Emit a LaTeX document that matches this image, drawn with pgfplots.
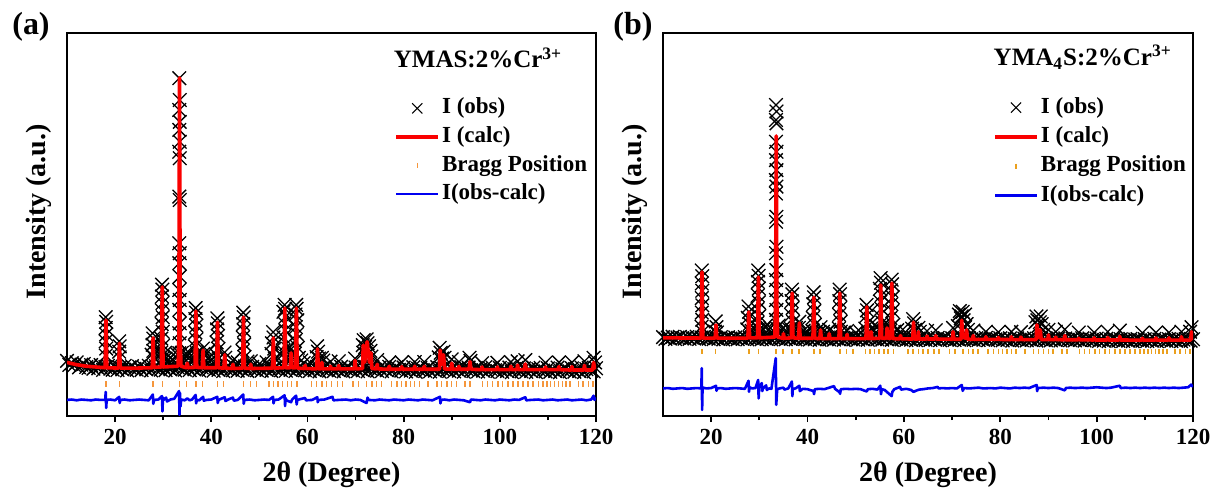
\documentclass[border=0pt]{standalone}
\usepackage{fontspec}
\setmainfont{Liberation Serif}
\usepackage{pgfplots}
\pgfplotsset{compat=1.18}
\definecolor{calcred}{RGB}{250,0,0}
\definecolor{diffblue}{RGB}{0,0,240}
\definecolor{braggA}{RGB}{245,150,60}
\definecolor{braggB}{RGB}{235,160,30}
\pgfplotsset{
 xrd/.style={
  scale only axis, height=191.5pt,
  xmin=10, xmax=120, ymin=0, ymax=100,
  xtick={20,40,...,120}, minor xtick={30,50,...,110}, ytick=\empty,
  xtick pos=left, tick align=outside,
  major tick length=3pt, minor tick length=2pt,
  every tick/.style={black, line width=0.9pt},
  axis line style={line width=1pt},
  tick label style={font=\bfseries\fontsize{11.5}{13}\selectfont},
  /pgf/number format/assume math mode=true,
  label style={font=\bfseries\fontsize{14}{16}\selectfont},
  xlabel={2θ (Degree)}, ylabel={Intensity (a.u.)},
  xlabel style={at={(axis description cs:0.5,-0.154)}, anchor=center},
  ylabel style={at={(axis description cs:-0.053,0.533)}, anchor=center},
  legend style={draw=none, fill=none, anchor=north west, font=\bfseries\fontsize{11.5}{13}\selectfont, row sep=0.8pt, nodes={inner sep=1pt, text height=8.5pt, text depth=3pt}},
  legend cell align=left,
  legend image code/.code={\draw[mark repeat=2,mark phase=2,#1] plot coordinates {(0pt,0pt)(10.5pt,0pt)(21pt,0pt)};},
  clip mode=individual,
 },
 obsbase/.style={black, line width=2pt, line join=round, mark=x, mark size=4.8pt, mark options={line width=0.65pt}, forget plot},
 obs/.style={only marks, mark=x, mark size=4.8pt, black, mark options={line width=0.65pt}, legend image post style={mark size=3.6pt, mark options={line width=0.5pt}}},
 calc/.style={calcred, line width=1.8pt, line join=round},
 diff/.style={diffblue, line width=1.3pt, line join=round},
}
\begin{document}
\begin{tikzpicture}
\path[use as bounding box] (0,0) rectangle (608pt,247pt);
% ---------------- panel (a) ----------------
\begin{axis}[xrd, width=264.5pt, at={(33.5pt,39pt)}, anchor=south west,
  legend style={at={(axis description cs:0.607,0.85)}}]
\addplot[obsbase] coordinates {
(10,14.4)(10.5,13.35)(11,13.8)(11.5,13.25)(12,14.0)(12.5,12.7)(13,13.4)(13.5,13.6)(14,12.8)(14.5,12.55)
(15,13.3)(15.5,12.35)(16,12.9)(16.5,12.45)(17,13.3)(17.5,12.05)(18,12.8)(18.5,13.1)(19,12.35)(19.5,12.1)(20,12.9)
(20.5,12.0)(21,12.6)(21.5,12.2)(22,13.1)(22.5,11.9)(23,12.7)(23.5,13.0)(24,12.3)(24.5,12.1)(25,12.9)
(25.5,12.0)(26,12.6)(26.5,12.2)(27,13.1)(27.5,11.9)(28,12.7)(28.5,13.0)(29,12.3)(29.5,12.1)(30,12.9)
(30.5,12.0)(31,12.6)(31.5,12.2)(32,13.1)(32.5,11.9)(33,12.7)(33.5,13.0)(34,12.3)(34.5,12.1)(35,12.9)
(35.5,12.0)(36,12.6)(36.5,12.2)(37,13.1)(37.5,11.9)(38,12.7)(38.5,13.0)(39,12.3)(39.5,12.1)(40,12.9)
(40.5,11.85)(41,12.45)(41.5,12.05)(42,12.95)(42.5,11.75)(43,12.55)(43.5,12.85)(44,12.15)(44.5,11.95)(45,12.75)
(45.5,11.85)(46,12.45)(46.5,12.05)(47,12.95)(47.5,11.75)(48,12.55)(48.5,12.85)(49,12.15)(49.5,11.95)(50,12.75)
(50.5,11.85)(51,12.45)(51.5,12.05)(52,12.95)(52.5,11.75)(53,12.55)(53.5,12.85)(54,12.15)(54.5,11.95)(55,12.75)
(55.5,11.85)(56,12.45)(56.5,12.05)(57,12.95)(57.5,11.75)(58,12.55)(58.5,12.85)(59,12.15)(59.5,11.95)(60,12.75)
(60.5,11.75)(61,12.35)(61.5,11.95)(62,12.85)(62.5,11.65)(63,12.45)(63.5,12.75)(64,12.05)(64.5,11.85)(65,12.65)
(65.5,11.75)(66,12.35)(66.5,11.95)(67,12.85)(67.5,11.65)(68,12.45)(68.5,12.75)(69,12.05)(69.5,11.85)(70,12.65)
(70.5,11.75)(71,12.35)(71.5,11.95)(72,12.85)(72.5,11.65)(73,12.45)(73.5,12.75)(74,12.05)(74.5,11.85)(75,12.65)
(75.5,11.75)(76,12.35)(76.5,11.95)(77,12.85)(77.5,11.65)(78,12.45)(78.5,12.75)(79,12.05)(79.5,11.85)(80,12.65)
(80.5,11.65)(81,12.25)(81.5,11.85)(82,12.75)(82.5,11.55)(83,12.35)(83.5,12.65)(84,11.95)(84.5,11.75)(85,12.55)
(85.5,11.65)(86,12.25)(86.5,11.85)(87,12.75)(87.5,11.55)(88,12.35)(88.5,12.65)(89,11.95)(89.5,11.75)(90,12.55)
(90.5,11.65)(91,12.25)(91.5,11.85)(92,12.75)(92.5,11.55)(93,12.35)(93.5,12.65)(94,11.95)(94.5,11.75)(95,12.55)
(95.5,11.65)(96,12.25)(96.5,11.85)(97,12.75)(97.5,11.55)(98,12.35)(98.5,12.65)(99,11.95)(99.5,11.75)(100,12.55)
(100.5,11.55)(101,12.15)(101.5,11.75)(102,12.65)(102.5,11.45)(103,12.25)(103.5,12.55)(104,11.85)(104.5,11.65)(105,12.45)
(105.5,11.55)(106,12.15)(106.5,11.75)(107,12.65)(107.5,11.45)(108,12.25)(108.5,12.55)(109,11.85)(109.5,11.65)(110,12.45)
(110.5,11.55)(111,12.15)(111.5,11.75)(112,12.65)(112.5,11.45)(113,12.25)(113.5,12.55)(114,11.85)(114.5,11.65)(115,12.45)
(115.5,11.55)(116,12.15)(116.5,11.75)(117,12.65)(117.5,11.45)(118,12.25)(118.5,12.55)(119,11.85)(119.5,11.65)(120,12.45)
};
\addplot[obs] coordinates {
(18.05,25.8)(18.15,24.6)(18.05,23.0)(18.15,21.3)(18.05,19.5)(18.15,17.6)(18.05,15.8)
(20.85,19.5)(20.95,18.2)(20.85,16.8)(20.95,15.3)
(27.8,21.6)(27.95,20.2)(27.8,18.6)(27.95,17.0)(27.6,16.0)(28.1,15.2)
(29.75,34.3)(29.85,33.0)(29.75,31.2)(29.85,29.5)(29.7,27.6)(29.9,25.8)(29.7,24.0)(29.9,22.0)(29.6,20.2)(30.0,18.4)(29.6,16.6)(30.0,15.2)(29.3,17.5)(30.4,16.5)
(33.35,88.2)(33.45,82.5)(33.35,79.9)(33.45,76.8)(33.35,74.7)(33.45,71.6)(33.35,69.0)(33.45,67.3)(33.35,57.3)(33.45,56.4)(33.35,45.1)(33.45,42.5)(33.35,39.9)(33.45,36.4)(33.35,32.9)(33.45,30.3)(33.35,27.7)(33.45,24.2)(33.35,21.6)(33.45,19.0)(33.35,16.4)
(34.9,15.5)(35.1,16.8)
(36.75,28.2)(36.85,27.0)(36.7,25.3)(36.9,23.6)(36.7,21.8)(36.9,20.0)(36.6,18.2)(37.0,16.5)(36.5,15.0)(37.2,15.5)
(38.25,17.6)(38.35,16.2)(38.0,15.0)(39.4,16.8)(39.7,15.4)(40.0,14.5)
(41.25,25.5)(41.35,24.2)(41.2,22.6)(41.4,20.9)(41.1,19.2)(41.5,17.5)(41.0,16.0)(41.6,15.0)
(42.75,16.6)(42.9,15.2)(44.5,14.5)
(46.65,27.0)(46.75,25.8)(46.6,24.0)(46.8,22.3)(46.55,20.5)(46.85,18.7)(46.5,17.0)(46.9,15.4)
(48.2,14.3)
(52.85,21.9)(52.95,20.5)(52.6,19.0)(53.1,17.6)(52.5,16.2)(53.2,15.0)
(55.25,29.0)(55.35,28.0)(55.0,27.2)(55.5,26.0)(55.2,24.2)(55.4,22.4)(55.0,20.6)(55.6,18.8)(54.9,17.0)(55.7,15.4)(56.0,17.5)(56.3,16.0)(56.6,17.5)(56.9,16.0)
(57.65,29.0)(57.75,28.0)(57.5,26.5)(57.9,25.0)(57.6,23.2)(57.8,21.4)(57.4,19.6)(58.0,17.8)(57.3,16.2)(58.2,15.2)
(62.0,18.2)(62.2,16.8)(61.9,15.4)(62.4,15.0)(63.0,15.2)(63.3,14.5)
(69.9,15.0)
(71.5,18.5)(71.7,19.8)(72.0,18.0)(72.3,20.0)(72.5,19.0)(72.8,18.2)(73.1,17.0)(73.3,15.5)(71.6,16.5)(72.4,16.0)
(87.5,17.8)(87.7,16.5)(88.0,15.0)(88.3,16.8)(88.5,15.2)(87.3,15.3)
(90,14.8)(93.7,15.2)(93.9,14.4)(105.3,14.6)(119.5,15.2)(119.8,14.0)
(64.8,14.2)(66.5,14.3)(74.5,14.6)(77,14.0)(79.6,14.0)(82.3,14.1)(84.3,14.1)(91.5,14.1)(96.3,13.8)(99.5,13.9)(102.3,14.1)(103.7,14.3)(109.5,13.9)(112.3,14.0)(115,14.0)(117.6,14.3)
(28.5,14.8)(29.0,15.5)(30.5,15.0)(31.0,14.5)(31.5,15.3)(32.0,14.6)(32.5,15.5)(33.0,16.0)(33.9,16.5)(34.3,15.2)(35.5,15.4)(36.0,14.8)(37.5,15.0)(38.8,14.5)(45.5,14.0)(47.5,14.2)(50,13.6)(51.5,14.0)(54.0,15.0)(54.4,16.2)(56.3,14.6)(58.7,14.5)(59.2,13.8)(60.5,14.0)
};
\addlegendentry{I (obs)}
\addplot[calc] coordinates {
(10,14.0)(12,13.4)(14,13.0)(16,12.8)(17.92,12.6)(18.1,25.0)(18.28,12.6)(20.72,12.5)(20.9,19.0)(21.08,12.5)(24,12.5)
(27.72,12.6)(27.9,20.4)(28.08,12.7)(29.62,12.8)(29.8,33.7)(29.98,12.8)(33.1,13.0)(33.25,20)(33.4,88.3)(33.55,20)(33.7,13.0)
(34.82,12.6)(35.0,13.8)(35.18,12.6)(36.62,12.7)(36.8,27.4)(36.98,12.7)(38.12,12.6)(38.3,17.2)(38.48,12.6)(41.12,12.6)(41.3,24.5)(41.48,12.6)
(42.62,12.5)(42.8,16.0)(42.98,12.5)(44.35,12.4)(44.5,13.5)(44.65,12.4)(46.52,12.5)(46.7,25.8)(46.88,12.5)(48.05,12.4)(48.2,13.5)(48.35,12.4)
(52.72,12.5)(52.9,20.4)(53.08,12.5)(55.12,12.6)(55.3,28.2)(55.48,12.6)(56.45,12.6)(56.6,16.5)(56.75,12.6)(57.52,12.6)(57.7,28.2)(57.88,12.5)
(59.35,12.4)(59.5,13.2)(59.65,12.4)(61.92,12.3)(62.1,17.5)(62.28,12.3)(62.85,12.3)(63.0,14.0)(63.15,12.3)(64.65,12.3)(64.8,13.0)(64.95,12.3)
(66.35,12.3)(66.5,13.2)(66.65,12.3)(69.75,12.3)(69.9,14.5)(70.05,12.3)(71.45,12.4)(71.6,18.5)(71.9,14)(72.4,19.4)(72.9,14)(73.2,16.5)(73.4,12.4)
(74.35,12.3)(74.5,13.5)(74.65,12.3)(76.85,12.2)(77,13)(77.15,12.2)(79.45,12.2)(79.6,12.9)(79.75,12.2)(82.15,12.2)(82.3,13.0)(82.45,12.2)
(84.15,12.2)(84.3,13)(84.45,12.2)(87.45,12.2)(87.6,17.2)(87.9,13.5)(88.3,16.0)(88.5,12.3)(89.85,12.2)(90,13.8)(90.15,12.2)
(91.35,12.2)(91.5,13.0)(91.65,12.2)(93.6,12.2)(93.8,14.2)(94.0,12.2)(96.15,12.1)(96.3,12.8)(96.45,12.1)(99.35,12.1)(99.5,12.8)(99.65,12.1)
(102.15,12.1)(102.3,13.0)(102.45,12.1)(103.55,12.1)(103.7,13.3)(103.85,12.1)(105.1,12.1)(105.3,13.6)(105.5,12.1)(109.35,12.1)(109.5,12.8)(109.65,12.1)
(112.15,12.1)(112.3,12.9)(112.45,12.1)(114.85,12.0)(115,12.9)(115.15,12.0)(117.45,12.0)(117.6,13.2)(117.75,12.0)(119.3,12.0)(119.5,14.0)(119.7,12.5)(120,13.2)
};
\addlegendentry{I (calc)}
\addplot[only marks, mark=|, mark size=1.4pt, braggA, mark options={line width=0.7pt}] coordinates {
(18.1,8.3)(20.9,8.3)(27.9,8.3)(29.8,8.3)(33.4,8.3)(34.9,8.3)(36.8,8.3)(38.2,8.3)(41.3,8.3)(42.6,8.3)(46.7,8.3)(48.1,8.3)(49.4,8.3)
(52.0,8.3)(52.9,8.3)(53.9,8.3)(54.8,8.3)(55.9,8.3)(56.7,8.3)(57.8,8.3)(60.9,8.3)(61.9,8.3)(63.0,8.3)(64.0,8.3)(65.0,8.3)(66.2,8.3)(67.3,8.3)
(69.5,8.3)(70.6,8.3)(72.3,8.3)(73.4,8.3)(74.4,8.3)(75.4,8.3)(77.5,8.3)(78.6,8.3)(79.6,8.3)(80.5,8.3)(81.4,8.3)(82.3,8.3)(83.3,8.3)(85.1,8.3)
(86.9,8.3)(87.9,8.3)(89.0,8.3)(90.0,8.3)(91.0,8.3)(92.8,8.3)(93.8,8.3)(96.4,8.3)(97.5,8.3)(98.5,8.3)(99.6,8.3)(100.6,8.3)(101.7,8.3)(102.7,8.3)
(103.8,8.3)(104.8,8.3)(105.9,8.3)(106.9,8.3)(108.0,8.3)(109.0,8.3)(109.8,8.3)(110.6,8.3)(111.4,8.3)(112.2,8.3)(113.0,8.3)(113.8,8.3)(114.6,8.3)
(116.3,8.3)(117.3,8.3)(118.4,8.3)(119.4,8.3)
};
\addlegendentry{Bragg Position}
\addplot[diff] coordinates {
(10,4.2)(11,4.3)(12,4.1)(13,4.3)(14,4.2)(15,4.1)(16,4.3)(17,4.2)(17.95,4.2)(18.05,6.3)(18.15,2.1)(18.25,4.2)(19,4.3)(20,4.1)(20.85,5.0)(20.95,3.4)(21.1,4.2)
(22,4.3)(23,4.1)(24,4.2)(25,4.3)(26,4.2)(27,4.1)(27.85,5.6)(27.95,3.2)(28.1,4.2)(29,4.3)(29.75,5.2)(29.85,1.2)(29.95,4.8)(30.1,4.2)(30.6,4.8)(30.8,3.8)
(31.5,4.3)(32.3,4.5)(33.3,6.5)(33.4,0.3)(33.5,6.0)(33.6,2.5)(33.75,4.3)(34.5,4.1)(35,4.6)(35.5,4.1)(36,4.3)(36.75,5.5)(36.85,3.3)(37,4.2)(37.5,4.1)
(38.3,5.0)(38.45,4.0)(39,4.2)(40,4.3)(41.25,5.0)(41.35,3.4)(41.5,4.2)(42.8,4.9)(42.95,3.9)(43.5,4.3)(44.5,4.8)(44.7,4.0)(45.5,4.2)(46.65,5.6)(46.75,3.2)(46.9,4.2)
(48,4.3)(49,4.1)(50,4.2)(51,4.3)(52,4.2)(52.85,5.0)(52.95,3.3)(53.1,4.2)(54,4.3)(55.25,5.4)(55.35,2.6)(55.45,4.7)(55.6,4.1)(56.6,3.6)(56.8,4.3)
(57.65,5.3)(57.75,3.0)(57.9,4.2)(58.5,4.4)(59.5,4.7)(59.7,4.1)(61,4.2)(62.05,4.9)(62.15,3.6)(62.3,4.2)(63.5,4.3)(65.2,5.0)(65.4,4.1)(66.5,4.2)
(68,4.3)(69,4.1)(70,4.3)(71,4.2)(72.3,3.4)(72.5,4.8)(72.7,4.2)(74,4.1)(75,4.3)(76,4.2)(77,4.1)(78,4.3)(79,4.2)(80,4.1)(81,4.3)(82,4.2)(83,4.1)
(84,4.3)(85,4.2)(86,4.1)(87.55,5.0)(87.65,3.3)(87.8,4.2)(88.5,4.3)(89.5,4.1)(90.5,4.3)(91.5,4.2)(92.5,4.1)(93.8,3.6)(94,4.3)(95,4.2)(96,4.1)
(97,4.3)(98,4.2)(99,4.1)(100,4.3)(101,4.2)(102,4.1)(103,4.3)(104,4.2)(105.3,4.9)(105.5,4.1)(106.5,4.2)(108,4.3)(109,4.1)(110,4.2)(111,4.3)
(112,4.1)(113,4.2)(114,4.3)(115,4.1)(116,4.2)(117,4.3)(118,4.1)(119,4.3)(119.5,5.3)(119.7,4.2)(120,4.8)
};
\addlegendentry{I(obs-calc)}
\node[font=\bfseries\fontsize{12.5}{14}\selectfont] at (axis description cs:0.777,0.935) {YMAS:2\%Cr\textsuperscript{3+}};
\end{axis}
% ---------------- panel (b) ----------------
\begin{axis}[xrd, width=265pt, at={(331.5pt,39pt)}, anchor=south west,
  legend style={at={(axis description cs:0.611,0.852)}, row sep=1.2pt}]
\addplot[obsbase] coordinates {
(10,20.6)(10.5,20.15)(11,20.45)(11.5,20.25)(12,20.7)(12.5,20.1)(13,20.5)(13.5,20.65)(14,20.3)(14.5,20.2)
(15,20.6)(15.5,20.15)(16,20.45)(16.5,20.25)(17,20.7)(17.5,20.1)(18,20.5)(18.5,20.65)(19,20.3)(19.5,20.2)(20,20.6)
(20.5,20.05)(21,20.35)(21.5,20.15)(22,20.6)(22.5,20.0)(23,20.4)(23.5,20.55)(24,20.2)(24.5,20.1)(25,20.5)
(25.5,20.05)(26,20.35)(26.5,20.15)(27,20.6)(27.5,20.0)(28,20.4)(28.5,20.55)(29,20.2)(29.5,20.1)(30,20.5)
(30.5,20.05)(31,20.35)(31.5,20.15)(32,20.6)(32.5,20.0)(33,20.4)(33.5,20.55)(34,20.2)(34.5,20.1)(35,20.5)
(35.5,20.05)(36,20.35)(36.5,20.15)(37,20.6)(37.5,20.0)(38,20.4)(38.5,20.55)(39,20.2)(39.5,20.1)(40,20.5)
(40.5,19.95)(41,20.25)(41.5,20.05)(42,20.5)(42.5,19.9)(43,20.3)(43.5,20.45)(44,20.1)(44.5,20.0)(45,20.4)
(45.5,19.95)(46,20.25)(46.5,20.05)(47,20.5)(47.5,19.9)(48,20.3)(48.5,20.45)(49,20.1)(49.5,20.0)(50,20.4)
(50.5,19.95)(51,20.25)(51.5,20.05)(52,20.5)(52.5,19.9)(53,20.3)(53.5,20.45)(54,20.1)(54.5,20.0)(55,20.4)
(55.5,19.95)(56,20.25)(56.5,20.05)(57,20.5)(57.5,19.9)(58,20.3)(58.5,20.45)(59,20.1)(59.5,20.0)(60,20.4)
(60.5,19.85)(61,20.15)(61.5,19.95)(62,20.4)(62.5,19.8)(63,20.2)(63.5,20.35)(64,20.0)(64.5,19.9)(65,20.3)
(65.5,19.85)(66,20.15)(66.5,19.95)(67,20.4)(67.5,19.8)(68,20.2)(68.5,20.35)(69,20.0)(69.5,19.9)(70,20.3)
(70.5,19.85)(71,20.15)(71.5,19.95)(72,20.4)(72.5,19.8)(73,20.2)(73.5,20.35)(74,20.0)(74.5,19.9)(75,20.3)
(75.5,19.85)(76,20.15)(76.5,19.95)(77,20.4)(77.5,19.8)(78,20.2)(78.5,20.35)(79,20.0)(79.5,19.9)(80,20.3)
(80.5,19.75)(81,20.05)(81.5,19.85)(82,20.3)(82.5,19.7)(83,20.1)(83.5,20.25)(84,19.9)(84.5,19.8)(85,20.2)
(85.5,19.75)(86,20.05)(86.5,19.85)(87,20.3)(87.5,19.7)(88,20.1)(88.5,20.25)(89,19.9)(89.5,19.8)(90,20.2)
(90.5,19.75)(91,20.05)(91.5,19.85)(92,20.3)(92.5,19.7)(93,20.1)(93.5,20.25)(94,19.9)(94.5,19.8)(95,20.2)
(95.5,19.75)(96,20.05)(96.5,19.85)(97,20.3)(97.5,19.7)(98,20.1)(98.5,20.25)(99,19.9)(99.5,19.8)(100,20.2)
(100.5,19.6)(101,19.9)(101.5,19.7)(102,20.15)(102.5,19.55)(103,19.95)(103.5,20.1)(104,19.75)(104.5,19.65)(105,20.05)
(105.5,19.6)(106,19.9)(106.5,19.7)(107,20.15)(107.5,19.55)(108,19.95)(108.5,20.1)(109,19.75)(109.5,19.65)(110,20.05)
(110.5,19.6)(111,19.9)(111.5,19.7)(112,20.15)(112.5,19.55)(113,19.95)(113.5,20.1)(114,19.75)(114.5,19.65)(115,20.05)
(115.5,19.6)(116,19.9)(116.5,19.7)(117,20.15)(117.5,19.55)(118,19.95)(118.5,20.1)(119,19.75)(119.5,19.65)(120,20.05)
};
\addplot[obs] coordinates {
(18.05,38.0)(18.15,36.5)(18.05,34.6)(18.15,32.7)(18.05,30.8)(18.15,28.9)(18.05,27.0)(18.15,25.1)(18.0,23.3)(18.2,22.0)
(20.95,24.7)(21.1,23.2)(20.8,22.0)(21.2,21.8)
(27.75,28.6)(27.85,27.2)(27.6,25.6)(28.0,24.0)(27.5,22.6)(28.1,21.8)
(29.75,38.0)(29.85,36.6)(29.7,35.0)(29.9,33.3)(29.7,31.5)(29.9,29.7)(29.6,27.9)(30.0,26.1)(29.6,24.3)(30.0,22.6)(30.4,22.0)
(33.45,81.2)(33.55,79.5)(33.45,77.3)(33.55,76.4)(33.45,71.6)(33.55,69.0)(33.45,66.8)(33.55,64.2)(33.45,61.6)(33.55,59.9)(33.45,58.1)
(33.55,52.0)(33.45,50.7)(33.55,44.2)(33.45,42.5)(33.55,38.1)(33.45,35.5)(33.55,32.9)(33.45,30.3)(33.55,27.7)(33.45,25.1)(33.55,23.0)
(36.75,33.0)(36.85,31.8)(36.7,30.0)(36.9,28.2)(36.6,26.4)(37.0,24.6)(36.5,22.8)(37.2,22.0)(37.6,23.0)(38.3,24.6)(38.2,23.0)
(41.25,32.3)(41.35,31.0)(41.2,29.2)(41.4,27.4)(41.1,25.6)(41.5,23.8)(41.0,22.2)(41.7,22.0)(42.7,23.2)(42.5,22.0)(40.0,22.0)(39.5,21.8)
(44.5,22.5)(44.1,21.8)
(46.65,33.0)(46.75,31.8)(46.6,30.0)(46.8,28.2)(46.55,26.4)(46.85,24.6)(46.5,22.8)(46.9,22.0)
(48.2,22.2)
(52.25,29.0)(52.35,27.6)(52.1,26.0)(52.5,24.4)(52.0,22.8)(52.7,22.0)(53.2,22.8)
(55.15,36.0)(55.25,34.8)(55.0,33.2)(55.4,31.6)(55.1,29.8)(55.3,28.0)(54.9,26.2)(55.5,24.4)(54.8,22.6)(55.7,22.0)(56.0,24.0)(56.3,22.5)(56.5,24.0)(56.8,22.4)
(57.45,35.6)(57.55,34.4)(57.3,32.8)(57.7,31.0)(57.4,29.2)(57.6,27.4)(57.2,25.6)(57.8,23.8)(57.1,22.2)(58.0,22.0)
(59.3,22.0)
(61.9,25.3)(62.1,24.2)(61.7,22.8)(62.3,22.5)(63.0,23.0)(63.3,22.0)
(70.2,23.0)(71.4,26.5)(71.6,27.4)(71.8,25.5)(72.0,26.0)(72.2,27.2)(72.4,25.0)(72.7,26.5)(73.0,24.0)(73.3,22.5)(71.2,23.5)(72.6,23.0)
(87.3,24.5)(87.5,26.0)(87.7,25.0)(87.9,23.5)(88.2,24.5)(88.4,26.0)(88.6,24.0)(88.9,22.5)
(64.8,22.2)(66.6,22.4)(74.4,22.3)(77,22.0)(79.6,21.9)(82.3,22.0)(84.3,21.9)(90,22.5)(91.5,22.0)(93.4,22.6)(96.3,21.8)(99.5,21.8)(102.3,22.0)(104.8,22.3)
(109.5,21.7)(112.3,21.8)(115,21.8)(117.6,22.0)(119.7,23.2)(119.4,22.0)
(28.4,22.2)(29.2,22.6)(30.8,22.6)(31.3,23.5)(31.8,22.4)(32.3,23.0)(32.8,22.3)(34.0,23.6)(34.4,22.4)(35.0,23.0)(35.5,22.2)(36.2,22.6)(39.2,22.3)
(43.2,22.0)(45.6,21.7)(47.6,21.8)(50,21.7)(51,21.9)(53.8,22.4)(54.3,23.5)(56.2,23.0)(58.6,22.4)(60.3,21.9)
};
\addlegendentry{I (obs)}
\addplot[calc] coordinates {
(10,20.4)(17.92,20.35)(18.1,37.6)(18.28,20.35)(20.82,20.35)(21.0,23.8)(21.18,20.35)(27.62,20.35)(27.8,27.2)(27.98,20.4)(29.62,20.4)(29.8,36.3)(29.98,20.4)
(33.2,20.6)(33.35,28)(33.5,73.1)(33.65,28)(33.8,20.6)(34.85,20.3)(35.0,21.5)(35.15,20.3)(36.62,20.4)(36.8,32.1)(36.98,20.4)(38.12,20.3)(38.3,24.3)(38.48,20.3)
(41.12,20.3)(41.3,31.0)(41.48,20.3)(42.55,20.2)(42.7,22.5)(42.85,20.2)(44.35,20.2)(44.5,21.5)(44.65,20.2)(46.52,20.2)(46.7,32.1)(46.88,20.2)
(48.05,20.2)(48.2,21.3)(48.35,20.2)(52.12,20.2)(52.3,28.5)(52.48,20.2)(53.05,20.2)(53.2,22.0)(53.35,20.2)(55.02,20.3)(55.2,34.2)(55.38,20.3)
(56.35,20.3)(56.5,23.0)(56.65,20.3)(57.32,20.3)(57.5,34.7)(57.68,20.2)(59.15,20.15)(59.3,21.0)(59.45,20.15)(61.82,20.1)(62.0,24.5)(62.18,20.1)
(62.85,20.1)(63.0,22.0)(63.15,20.1)(64.65,20.1)(64.8,20.9)(64.95,20.1)(66.45,20.1)(66.6,21.0)(66.75,20.1)(70.05,20.05)(70.2,22.0)(70.35,20.05)
(71.85,20.05)(72.0,25.0)(72.2,20.6)(72.85,20.3)(73.0,22.5)(73.2,20.05)(74.25,20.0)(74.4,21.0)(74.55,20.0)(76.85,20.0)(77,20.7)(77.15,20.0)
(79.45,20.0)(79.6,20.5)(79.75,20.0)(82.15,19.95)(82.3,20.7)(82.45,19.95)(84.15,19.95)(84.3,20.6)(84.45,19.95)(87.45,19.95)(87.6,23.8)(87.9,20.5)
(88.3,22.5)(88.5,19.95)(89.85,19.95)(90.0,21.2)(90.15,19.95)(91.35,19.95)(91.5,20.6)(91.65,19.95)(93.25,19.9)(93.4,21.0)(93.55,19.9)
(96.15,19.9)(96.3,20.3)(96.45,19.9)(99.35,19.85)(99.5,20.4)(99.65,19.85)(102.15,19.85)(102.3,20.5)(102.45,19.85)(104.65,19.85)(104.8,20.8)(104.95,19.85)
(109.35,19.8)(109.5,20.3)(109.65,19.8)(112.15,19.8)(112.3,20.4)(112.45,19.8)(114.85,19.8)(115,20.4)(115.15,19.8)(117.45,19.8)(117.6,20.7)(117.75,19.8)
(119.5,19.8)(119.7,22.0)(119.9,20.2)(120,20.4)
};
\addlegendentry{I (calc)}
\addplot[only marks, mark=|, mark size=1.4pt, braggB, mark options={line width=0.8pt}] coordinates {
(18.1,16.8)(20.9,16.8)(27.9,16.8)(29.8,16.8)(33.4,16.8)(34.9,16.8)(36.8,16.8)(38.2,16.8)(41.3,16.8)(42.6,16.8)(46.7,16.8)(48.1,16.8)(49.4,16.8)
(52.0,16.8)(52.9,16.8)(53.9,16.8)(54.8,16.8)(55.9,16.8)(56.7,16.8)(57.8,16.8)(60.9,16.8)(61.9,16.8)(63.0,16.8)(64.0,16.8)(65.0,16.8)(66.2,16.8)(67.3,16.8)
(69.5,16.8)(70.6,16.8)(72.3,16.8)(73.4,16.8)(74.4,16.8)(75.4,16.8)(77.5,16.8)(78.6,16.8)(79.6,16.8)(80.5,16.8)(81.4,16.8)(82.3,16.8)(83.3,16.8)(85.1,16.8)
(86.9,16.8)(87.9,16.8)(89.0,16.8)(90.0,16.8)(91.0,16.8)(92.8,16.8)(93.8,16.8)(96.4,16.8)(97.5,16.8)(98.5,16.8)(99.6,16.8)(100.6,16.8)(101.7,16.8)(102.7,16.8)
(103.8,16.8)(104.8,16.8)(105.9,16.8)(106.9,16.8)(108.0,16.8)(109.0,16.8)(109.8,16.8)(110.6,16.8)(111.4,16.8)(112.2,16.8)(113.0,16.8)(113.8,16.8)(114.6,16.8)
(116.3,16.8)(117.3,16.8)(118.4,16.8)(119.4,16.8)
};
\addlegendentry{Bragg Position}
\addplot[diff] coordinates {
(10,7.2)(11,7.3)(12,7.1)(13,7.2)(14,7.3)(15,7.1)(16,7.2)(17,7.3)(17.95,7.2)(18.05,12.5)(18.12,1.6)(18.2,6.8)(18.35,7.4)(19,7.2)(20,7.3)(21.0,7.9)(21.1,6.6)(21.25,7.2)
(22,7.3)(23,7.1)(24,7.2)(25,7.3)(26,7.2)(27,7.1)(27.75,9.2)(27.85,6.3)(27.95,7.5)(28.5,7.2)(29.2,7.3)(29.75,9.4)(29.85,4.6)(29.95,7.3)(30.5,8.6)(30.6,6.5)(30.75,7.2)
(31.4,8.0)(31.55,6.8)(32,7.2)(32.5,7.1)(33.4,15.1)(33.5,2.9)(33.6,5.0)(33.7,7.0)(34.2,7.2)(35,7.4)(35.2,6.9)(36,7.2)(36.75,9.0)(36.85,5.2)(36.95,7.1)(37.5,7.2)
(38.3,7.9)(38.4,6.5)(39,7.1)(40,7.0)(41.25,6.5)(41.35,5.7)(41.5,7.0)(42.5,7.1)(43.5,7.0)(44.5,7.4)(45.5,7.8)(45.7,7.1)(46.65,6.2)(46.75,5.8)(46.9,7.0)
(48,7.1)(49,7.0)(50,7.1)(51,7.0)(52.3,6.4)(52.5,7.0)(53.5,7.1)(54.5,6.9)(55.1,7.9)(55.25,5.7)(55.4,7.0)(56,6.8)(57.45,5.2)(57.6,6.3)(58,7.0)(59.2,7.6)(59.4,6.9)
(60.5,7.1)(61.5,6.8)(62,6.3)(62.5,6.6)(63.2,6.9)(64,7.0)(65,7.2)(66,7.3)(67,7.6)(67.2,7.2)(68,7.3)(69,7.2)(70,7.3)(71,7.2)(72,8.1)(72.2,6.6)(72.5,7.3)
(73.5,7.2)(74.5,7.3)(75.5,7.4)(76.5,7.2)(78,7.3)(79,7.2)(80,7.4)(81,7.3)(82,7.2)(83,7.4)(84,7.3)(85,7.4)(86,7.3)(87.55,8.1)(87.65,6.5)(87.8,7.3)
(89,7.4)(90,7.3)(91,7.4)(92,7.3)(93.4,6.7)(93.6,7.3)(94.5,7.4)(95.5,7.3)(97,7.4)(98,7.3)(99,7.4)(100,7.5)(101,7.4)(102,7.3)(103,7.4)(104.8,7.9)(105,7.3)
(106,7.4)(107,7.3)(108,7.4)(109,7.3)(110,7.4)(111,7.3)(112,7.4)(113,7.3)(114,7.4)(115,7.3)(116,7.4)(117,7.3)(118,7.4)(119,7.5)(119.6,8.2)(120,7.6)
};
\addlegendentry{I(obs-calc)}
\node[font=\bfseries\fontsize{12.5}{14}\selectfont] at (axis description cs:0.792,0.937) {YMA\textsubscript{4}S:2\%Cr\textsuperscript{3+}};
\end{axis}
\node[font=\bfseries\fontsize{16}{18}\selectfont] at (15.5pt,233.5pt) {(a)};
\node[font=\bfseries\fontsize{16}{18}\selectfont] at (316.5pt,233.5pt) {(b)};
\end{tikzpicture}
\end{document}
